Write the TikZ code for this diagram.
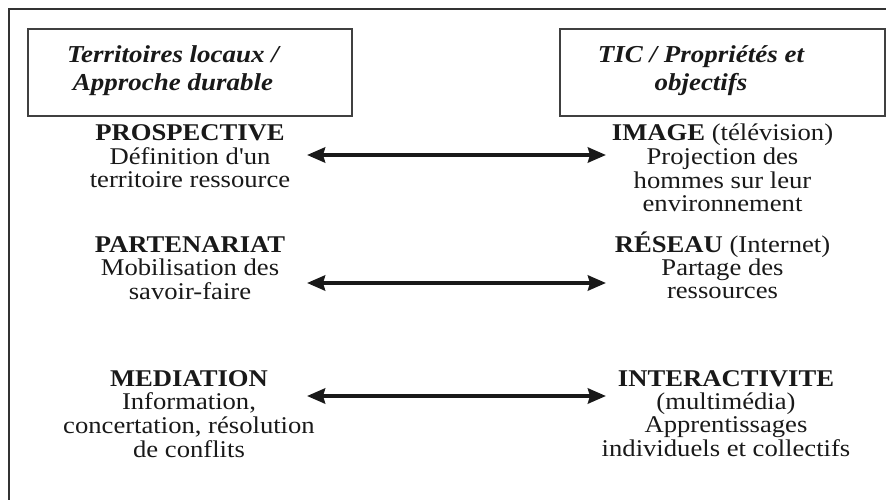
\documentclass[tikz,border=0pt]{standalone}
\usepackage{fontspec}
\setmainfont{Liberation Serif}[FakeStretch=1.11, Ligatures=TeXOff]
\usetikzlibrary{arrows.meta}
\newcommand\blk[1]{\begin{tabular}[t]{@{}c@{}}#1\end{tabular}}
\begin{document}
\begin{tikzpicture}[x=1pt,y=-1pt,
  txt/.style={font=\fontsize{24}{23}\selectfont, inner sep=0pt, anchor=base, text=black!90},
  hdr/.style={font=\fontsize{24.3}{28}\selectfont\bfseries\itshape, inner sep=0pt, anchor=base, text=black!90},
  hbox/.style={draw=black!75, line width=1.3pt, inner sep=0pt},
  frame/.style={draw=black!80, line width=2pt},
  dbl/.style={{Stealth[length=18pt,width=15pt,inset=2pt]}-{Stealth[length=18pt,width=15pt,inset=2pt]}, line width=4.5pt, black!90}]
\useasboundingbox (0,0) rectangle (886,500);
\draw[frame] (9,500) -- (9,9) -- (886,9);
% header boxes
\node[hbox, minimum width=324pt, minimum height=87pt] (lbox) at (190,72.5) {};
\node[hbox, minimum width=325pt, minimum height=87pt] (rbox) at (722.5,72.5) {};
\node[hdr] (lhdr) at (173,63) {\blk{Territoires locaux /\\Approche durable}};
\node[hdr] (rhdr) at (701,63) {\blk{TIC / Propriétés et\\objectifs}};
% left column
\node[txt] (l1) at (190,141) {\blk{\textbf{PROSPECTIVE}\\Définition d'un\\territoire ressource}};
\node[txt] (l2) at (190,252) {\blk{\textbf{PARTENARIAT}\\Mobilisation des\\savoir-faire}};
\node[txt] (l3) at (189,386) {\blk{\textbf{MEDIATION}\\Information,\\concertation, résolution\\de conflits}};
% right column
\node[txt] (r1) at (722.5,141) {\blk{\textbf{IMAGE} (télévision)\\Projection des\\hommes sur leur\\environnement}};
\node[txt] (r2) at (722.5,252) {\blk{\textbf{RÉSEAU} (Internet)\\Partage des\\ressources}};
\node[txt] (r3) at (726,386) {\blk{\textbf{INTERACTIVITE}\\(multimédia)\\Apprentissages\\individuels et collectifs}};
% arrows
\coordinate (a1l) at (307,155); \coordinate (a1r) at (606,155);
\coordinate (a2l) at (307,283); \coordinate (a2r) at (606,283);
\coordinate (a3l) at (307,396); \coordinate (a3r) at (606,396);
\draw[dbl] (a1l) -- (a1r);
\draw[dbl] (a2l) -- (a2r);
\draw[dbl] (a3l) -- (a3r);
\end{tikzpicture}
\end{document}
